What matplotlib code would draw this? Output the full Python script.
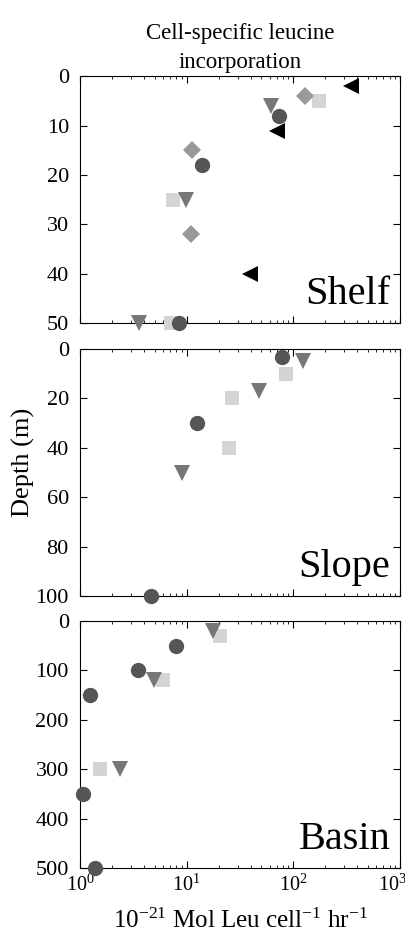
import numpy as np
import matplotlib
matplotlib.use("Agg")
import matplotlib.pyplot as plt
import matplotlib.transforms as mtransforms

# ---- data (x = rate, y = depth in m) ----
# Shelf
shelf_circle_x = [74, 13.8, 8.5]
shelf_circle_y = [8, 18, 50]
shelf_tri_x = [62, 9.8, 3.6]
shelf_tri_y = [6, 25, 50]
shelf_square_x = [175, 7.5, 7.1]
shelf_square_y = [5, 25, 50]
shelf_diamond_x = [129, 11.3, 11]
shelf_diamond_y = [4, 15, 32]
shelf_left_x = [350, 71, 39]
shelf_left_y = [2, 11, 40]

# Slope
slope_circle_x = [78, 12.4, 4.6]
slope_circle_y = [3, 30, 100]
slope_tri_x = [124, 48, 9]
slope_tri_y = [5, 17, 50]
slope_square_x = [85, 26.5, 25]
slope_square_y = [10, 20, 40]

# Basin
basin_circle_x = [7.9, 3.5, 1.24, 1.06, 1.38]
basin_circle_y = [50, 100, 150, 350, 500]
basin_tri_x = [17.8, 4.9, 2.37]
basin_tri_y = [20, 120, 300]
basin_square_x = [20.5, 6.0, 1.54]
basin_square_y = [30, 120, 300]

x_ticks = [1, 10, 100, 1000]

plt.rcParams['font.family'] = ['Liberation Serif', 'DejaVu Serif']
plt.rcParams['mathtext.fontset'] = 'custom'
plt.rcParams['mathtext.rm'] = 'Liberation Serif'
plt.rcParams['mathtext.default'] = 'regular'

styles = {
    "circle": dict(marker="o", color="#555555", ms=11),
    "tri": dict(marker="v", color="#777777", ms=12),
    "square": dict(marker="s", color="#d4d4d4", ms=10),
    "diamond": dict(marker="D", color="#999999", ms=9),
    "left": dict(marker="<", color="#000000", ms=12),
}

panels = [
    ("Shelf", 50, [0, 10, 20, 30, 40, 50], [
        ("square", shelf_square_x, shelf_square_y),
        ("diamond", shelf_diamond_x, shelf_diamond_y),
        ("tri", shelf_tri_x, shelf_tri_y),
        ("circle", shelf_circle_x, shelf_circle_y),
        ("left", shelf_left_x, shelf_left_y),
    ]),
    ("Slope", 100, [0, 20, 40, 60, 80, 100], [
        ("square", slope_square_x, slope_square_y),
        ("tri", slope_tri_x, slope_tri_y),
        ("circle", slope_circle_x, slope_circle_y),
    ]),
    ("Basin", 500, [0, 100, 200, 300, 400, 500], [
        ("square", basin_square_x, basin_square_y),
        ("tri", basin_tri_x, basin_tri_y),
        ("circle", basin_circle_x, basin_circle_y),
    ]),
]

fig = plt.figure(figsize=(4.06, 9.35), dpi=100)
bottoms = [0.6545, 0.3626, 0.0717]
axes = []
for (name, ymax, yticks, series), b in zip(panels, bottoms):
    ax = fig.add_axes([0.197, b, 0.788, 0.264])
    for key, xs, ys in series:
        st = styles[key]
        ax.plot(xs, ys, linestyle="none", marker=st["marker"], color=st["color"],
                markersize=st["ms"], markeredgewidth=0, clip_on=False, zorder=3)
    ax.set_xscale("log")
    ax.set_xlim(1, 1000)
    ax.set_xticks(x_ticks)
    ax.set_ylim(ymax, 0)
    ax.set_yticks(yticks)
    ax.tick_params(which="both", direction="in", top=True, right=True)
    ax.tick_params(axis="y", labelsize=16, pad=8)
    ax.tick_params(axis="x", labelsize=14.5, pad=5)
    ax.tick_params(which="major", length=5)
    ax.tick_params(which="minor", length=2.5)
    ax.text(0.97, 0.04, name, transform=ax.transAxes, ha="right", va="bottom", fontsize=29)
    axes.append(ax)

axes[0].set_title("Cell-specific leucine\nincorporation", fontsize=16.5, pad=6, linespacing=1.5)
axes[0].tick_params(labelbottom=False)
axes[1].tick_params(labelbottom=False)
axes[2].set_xlabel(r"10$^{-21}$ Mol Leu cell$^{-1}$ hr$^{-1}$", fontsize=18, labelpad=9)
fig.text(0.057, 0.505, "Depth (m)", rotation=90, ha="center", va="center", fontsize=19)

# last x tick label sits slightly left of its tick, hugging the figure edge
fig.canvas.draw()
last = axes[2].xaxis.get_major_ticks()[-1].label1
shift = mtransforms.ScaledTranslation(-7 / 100, 0, fig.dpi_scale_trans)
last.set_transform(last.get_transform() + shift)

fig.savefig("out.png", dpi=100)
plt.close(fig)
